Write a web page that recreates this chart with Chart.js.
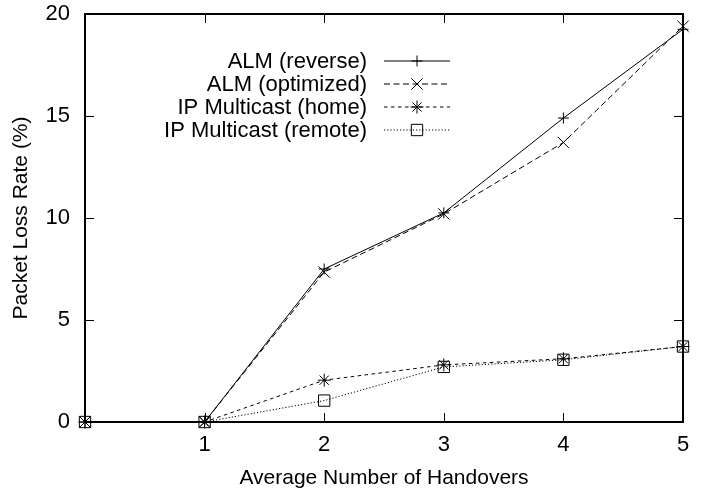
<!DOCTYPE html>
<html><head><meta charset="utf-8">
<script src="https://cdn.jsdelivr.net/npm/chart.js@4"></script>
<style>html,body{margin:0;padding:0;background:#fff}#wrap{width:705px;height:496px}</style>
</head><body><div id="wrap"><canvas id="c" width="705" height="496"></canvas></div>
<script>
const handovers = [0, 1, 2, 3, 4, 5];
const almReverse = [0, 0, 7.5, 10.25, 14.9, 19.25];
const almOptimized = [0, 0, 7.35, 10.2, 13.7, 19.4];
const ipHome = [0, 0, 2.05, 2.8, 3.1, 3.7];
const ipRemote = [0, 0, 1.05, 2.7, 3.05, 3.7];
const seriesNames = ['ALM (reverse)', 'ALM (optimized)', 'IP Multicast (home)', 'IP Multicast (remote)'];
const xTicks = [1, 2, 3, 4, 5];
const yTicks = [0, 5, 10, 15, 20];

const FONT = 'Liberation Sans, Arial, Helvetica, sans-serif';
const pts = arr => handovers.map((x, i) => ({x, y: arr[i]}));
const styles = [
  {dash: [], point: 'cross', r: 5.5},
  {dash: [6, 3.5], point: 'crossRot', r: 8},
  {dash: [3.5, 3.5], point: 'star', r: 6.5},
  {dash: [1.2, 2], point: 'rect', r: 8}
];
const seriesData = [almReverse, almOptimized, ipHome, ipRemote];
const datasets = seriesData.map((d, i) => ({
  label: seriesNames[i],
  data: pts(d),
  borderColor: '#000',
  borderWidth: 1,
  borderDash: styles[i].dash,
  pointStyle: styles[i].point,
  pointRadius: styles[i].r,
  pointBorderColor: '#000',
  pointBackgroundColor: 'rgba(0,0,0,0)',
  pointBorderWidth: 1,
  fill: false,
  tension: 0,
  clip: false
}));

const framePlugin = {
  id: 'frame',
  afterDatasetsDraw(chart) {
    const {ctx, chartArea: a, scales} = chart;
    ctx.save();
    ctx.strokeStyle = '#000';
    ctx.lineWidth = 1;
    ctx.setLineDash([]);
    const tl = 9;
    xTicks.forEach(v => {
      const px = Math.round(scales.x.getPixelForValue(v)) + 0.5;
      ctx.beginPath();
      ctx.moveTo(px, a.bottom); ctx.lineTo(px, a.bottom - tl);
      ctx.moveTo(px, a.top); ctx.lineTo(px, a.top + tl);
      ctx.stroke();
    });
    yTicks.forEach(v => {
      const py = Math.round(scales.y.getPixelForValue(v)) + 0.5;
      ctx.beginPath();
      ctx.moveTo(a.left, py); ctx.lineTo(a.left + tl, py);
      ctx.moveTo(a.right, py); ctx.lineTo(a.right - tl, py);
      ctx.stroke();
    });
    ctx.lineWidth = 2;
    ctx.strokeRect(a.left, a.top, a.right - a.left, a.bottom - a.top);
    // legend
    ctx.font = '22px ' + FONT;
    ctx.fillStyle = '#000';
    ctx.textAlign = 'right';
    ctx.textBaseline = 'middle';
    const textRight = 367, lx0 = 384, lx1 = 450;
    const ys = [60.5, 83.5, 106.5, 129.5];
    chart.data.datasets.forEach((ds, i) => {
      const y = ys[i];
      ctx.fillStyle = '#000';
      ctx.fillText(ds.label, textRight, y + 1);
      ctx.lineWidth = 1;
      ctx.setLineDash(ds.borderDash);
      ctx.beginPath();
      ctx.moveTo(lx0, y + 0.5); ctx.lineTo(lx1, y + 0.5);
      ctx.stroke();
      ctx.setLineDash([]);
      ctx.fillStyle = 'rgba(0,0,0,0)';
      Chart.helpers.drawPoint(ctx, {pointStyle: ds.pointStyle, radius: ds.pointRadius, borderWidth: 1}, (lx0 + lx1) / 2, y + 0.5);
    });
    ctx.restore();
  }
};

new Chart(document.getElementById('c'), {
  type: 'line',
  data: {datasets},
  options: {
    responsive: false,
    animation: false,
    devicePixelRatio: 1,
    layout: {padding: {top: 14, right: 22, left: 0, bottom: 0}},
    plugins: {legend: {display: false}, tooltip: {enabled: false}},
    scales: {
      x: {
        type: 'linear', min: 0, max: 5,
        afterBuildTicks: s => { s.ticks = handovers.map(v => ({value: v})); },
        afterFit: s => { s.height = 74; s.paddingLeft = 0; s.paddingRight = 0; },
        grid: {display: false, drawTicks: false},
        border: {display: false},
        ticks: {
          color: '#000', font: {family: FONT, size: 22}, padding: 10, maxRotation: 0,
          callback: v => (xTicks.includes(v) ? String(v) : '')
        },
        title: {display: true, text: 'Average Number of Handovers', color: '#000', font: {family: FONT, size: 21}, padding: {top: 4, bottom: 5}}
      },
      y: {
        type: 'linear', min: 0, max: 20,
        afterBuildTicks: s => { s.ticks = yTicks.map(v => ({value: v})); },
        afterFit: s => { s.width = 85; s.paddingTop = 0; s.paddingBottom = 0; },
        grid: {display: false, drawTicks: false},
        border: {display: false},
        ticks: {color: '#000', font: {family: FONT, size: 22}, padding: 15},
        title: {display: true, text: 'Packet Loss Rate (%)', color: '#000', font: {family: FONT, size: 21}, padding: {top: 8.5, bottom: 2}}
      }
    }
  },
  plugins: [framePlugin]
});
</script>
</body></html>
